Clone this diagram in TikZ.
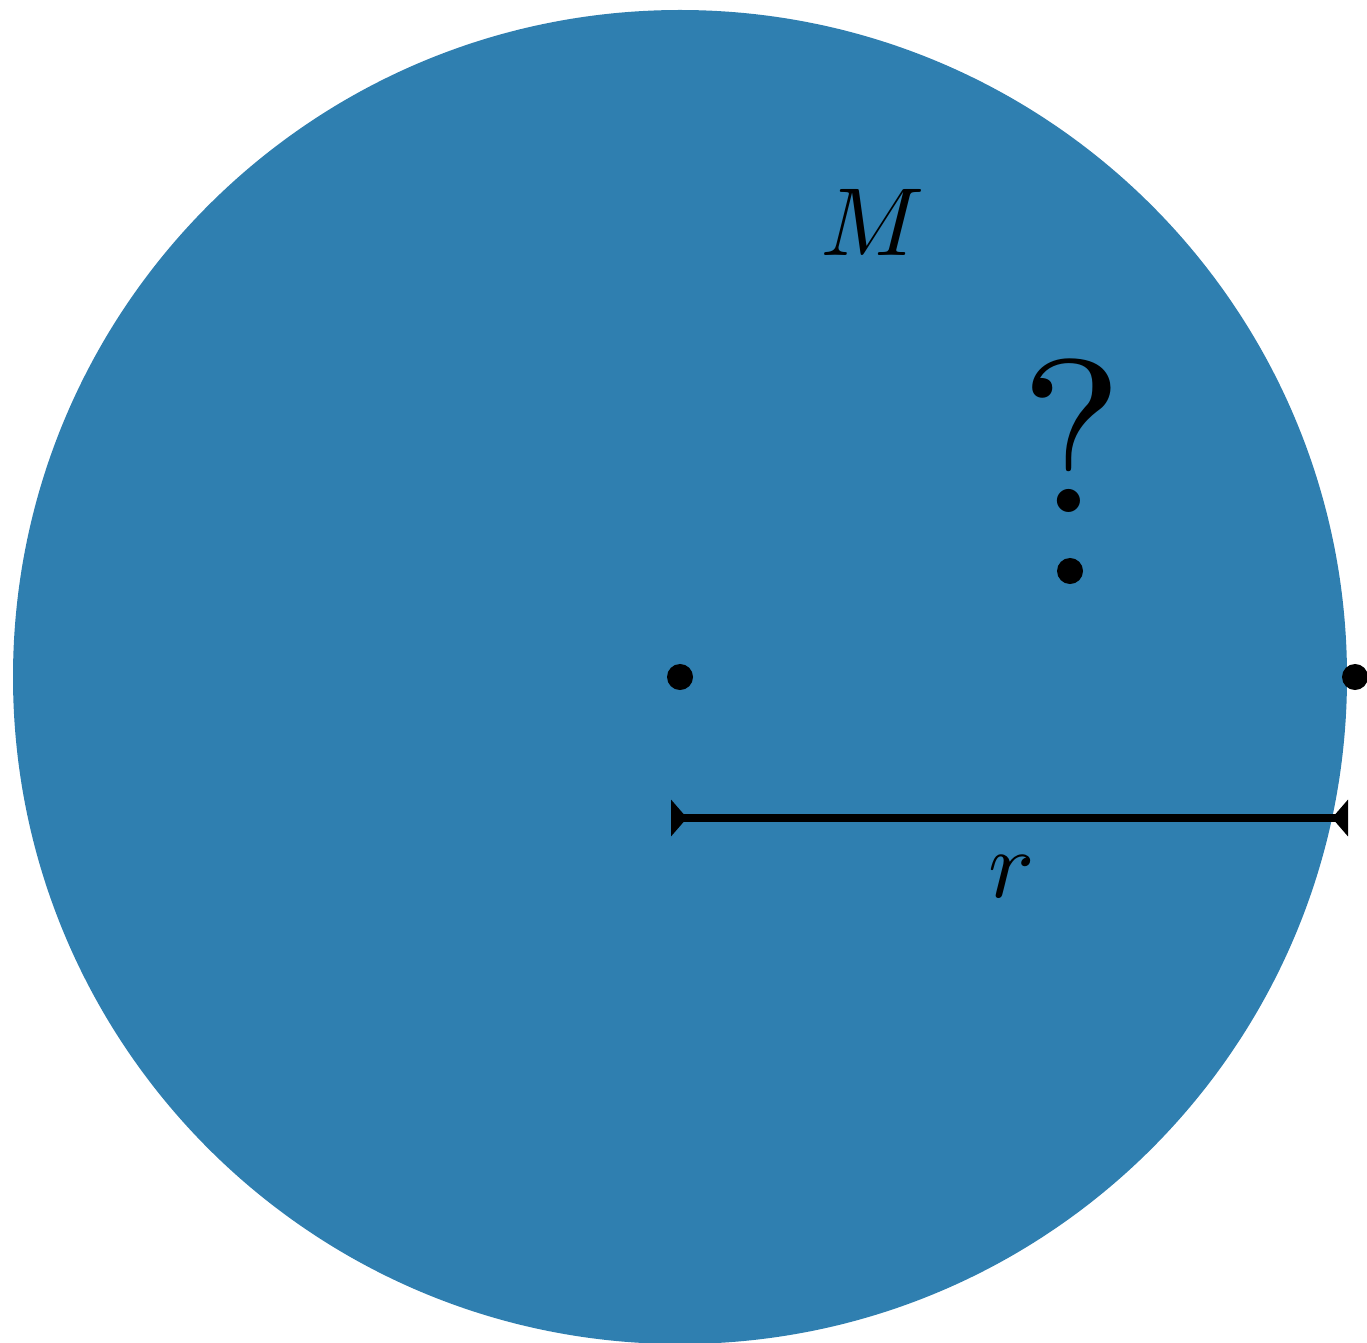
\documentclass[tikz,border=0pt]{standalone}
\usetikzlibrary{arrows.meta}
\definecolor{massblue}{RGB}{47,127,176}
\tikzset{
  dot/.style={circle,fill=black,inner sep=0pt,minimum size=0.26cm},
  lbl/.style={scale=2.75,transform shape},
}
\begin{document}
\begin{tikzpicture}[x=0.01cm,y=-0.01cm]
  \useasboundingbox (0,0) rectangle (1367,1343);
  \fill[massblue] (680,677) circle (667);
  \node[dot] (centre) at (680,677) {};
  \node[dot] (edge) at (1355,677) {};
  \node[dot] (probe) at (1070,571) {};
  \node[lbl] (mass) at (873,222) {$M$};
  \node[scale=6.2,transform shape] (query) at (1072,436) {?};
  \coordinate (rstart) at (671,818);
  \coordinate (rend) at (1348,818);
  \draw[line width=0.08cm,{Triangle[reversed,width=0.36cm,length=0.16cm]}-{Triangle[reversed,width=0.36cm,length=0.16cm]}] (rstart) -- (rend);
  \node[lbl] (radius) at (1012,877) {$r$};
\end{tikzpicture}
\end{document}
